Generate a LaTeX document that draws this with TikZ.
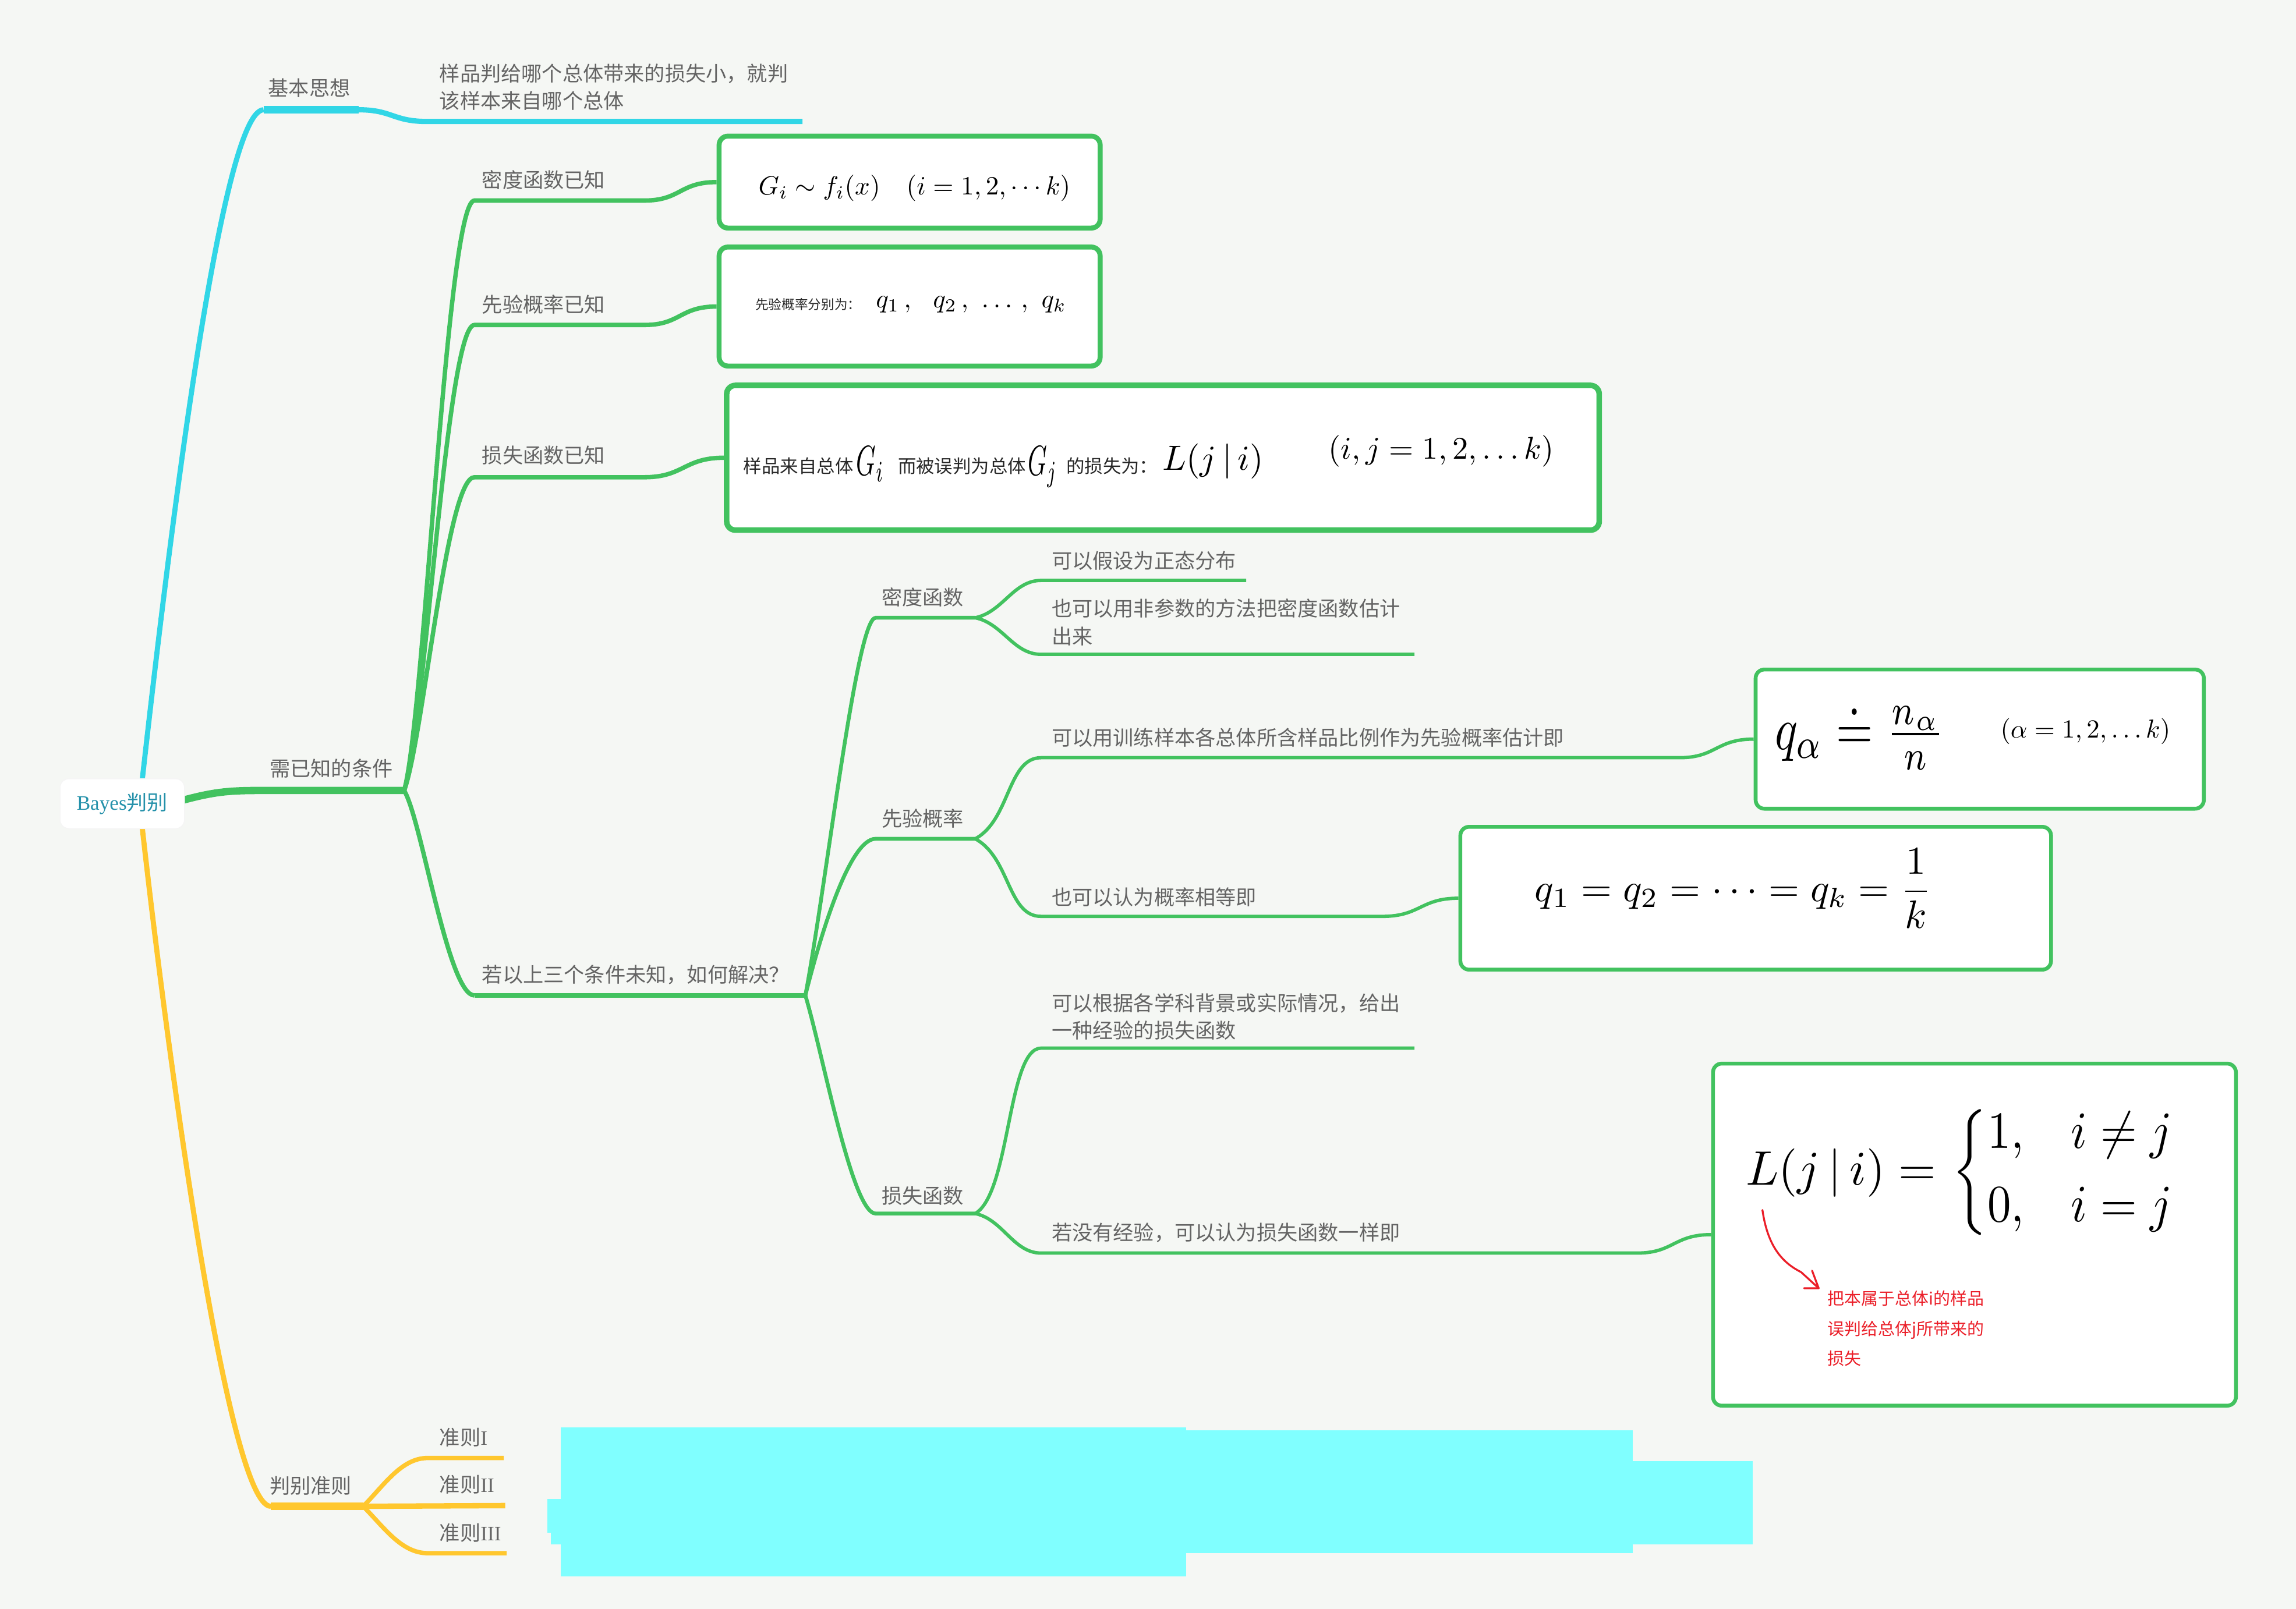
\documentclass[tikz,border=0pt]{standalone}
\usepackage{amsmath,amssymb}
\usepackage{fontspec}
\newfontfamily\cjk{Noto Sans CJK SC}
\newfontfamily\lat{Liberation Serif}
\definecolor{bg}{RGB}{245,247,244}
\definecolor{cy}{RGB}{49,214,230}
\definecolor{gr}{RGB}{66,194,95}
\definecolor{ye}{RGB}{255,199,46}
\definecolor{txt}{RGB}{100,100,100}
\definecolor{dark}{RGB}{40,40,40}
\definecolor{rootc}{RGB}{36,145,170}
\definecolor{redc}{RGB}{235,30,40}
\definecolor{blob}{RGB}{128,255,255}
\pgfdeclarelayer{bgl}
\pgfdeclarelayer{back}
\pgfsetlayers{bgl,back,main}
\begin{document}
\begin{tikzpicture}[x=1pt,y=-1pt,line cap=round,line join=round,
  lbl/.style={font=\cjk\fontsize{14}{19}\selectfont,text=txt,inner sep=0pt,anchor=west,align=left},
  boxtxt/.style={font=\cjk\fontsize{12.5}{15}\selectfont,text=dark,inner sep=0pt,anchor=west},
  hand/.style={inner sep=0pt,anchor=west,text=black},
  boxg/.style={draw=gr,fill=white,rounded corners=6pt,inner sep=0pt},
  rootbox/.style={draw=white!96!black,line width=0.6pt,fill=white,rounded corners=6pt,inner sep=0pt,
    minimum width=85pt,minimum height=34pt,font=\fontsize{14}{17}\selectfont,text=rootc},
  cyl/.style={draw=cy},
  grl/.style={draw=gr},
  yel/.style={draw=ye},
  redl/.style={draw=redc,line width=1.3pt}]
\useasboundingbox (0,0) rectangle (1568,1099);
\begin{pgfonlayer}{bgl}
\fill[bg] (0,0) rectangle (1568,1099);
\end{pgfonlayer}

% ---------- root
\node[rootbox] (root) at (83.5,549) {{\lat Bayes}{\cjk 判别}};

% ---------- boxes
\node[boxg,line width=3.4pt,minimum width=260.2pt,minimum height=62.8pt] (box1) at (621.2,124.4) {};
\node[boxg,line width=3.4pt,minimum width=260.2pt,minimum height=81.3pt] (box2) at (621.2,209.4) {};
\node[boxg,line width=3.8pt,minimum width=595.9pt,minimum height=98.9pt] (box3) at (794.2,312.7) {};
\node[boxg,line width=2.6pt,minimum width=306.1pt,minimum height=95.1pt] (box4) at (1352,504.9) {};
\node[boxg,line width=2.6pt,minimum width=403.4pt,minimum height=97.6pt] (box5) at (1199,613.6) {};
\node[boxg,line width=2.6pt,minimum width=357.1pt,minimum height=233.7pt] (box6) at (1348.4,843.4) {};

% ---------- cyan blob
\fill[blob] (383,975) rectangle (810,1077);
\fill[blob] (810,977) rectangle (1115,1061);
\fill[blob] (1115,998) rectangle (1197,1055);
\fill[blob] (374,1024) rectangle (384,1047);
\fill[blob] (376,1046) rectangle (384,1055);

% ---------- labels
\node[lbl] (ljb) at (183,60) {基本思想};
\node[lbl] (ljbt) at (300,59.5) {样品判给哪个总体带来的损失小，就判\\该样本来自哪个总体};
\node[lbl] (lxy) at (184,525) {需已知的条件};
\node[lbl] (lmd) at (329,123) {密度函数已知};
\node[lbl] (lxq) at (329,208) {先验概率已知};
\node[lbl] (lss) at (329,311) {损失函数已知};
\node[lbl] (lrg) at (329,666) {若以上三个条件未知，如何解决？};
\node[lbl] (lmd2) at (602,408) {密度函数};
\node[lbl] (la1) at (718,383) {可以假设为正态分布};
\node[lbl] (la2) at (718,425) {也可以用非参数的方法把密度函数估计\\出来};
\node[lbl] (lxq2) at (602,559) {先验概率};
\node[lbl] (lb1) at (718,504) {可以用训练样本各总体所含样品比例作为先验概率估计即};
\node[lbl] (lb2) at (718,613) {也可以认为概率相等即};
\node[lbl] (lss2) at (602,817) {损失函数};
\node[lbl] (lc1) at (718,694.5) {可以根据各学科背景或实际情况，给出\\一种经验的损失函数};
\node[lbl] (lc2) at (718,842) {若没有经验，可以认为损失函数一样即};
\node[lbl] (lpb) at (184,1015) {判别准则};
\node[lbl] (lz1) at (300,982) {准则{\lat I}};
\node[lbl] (lz2) at (300,1014) {准则{\lat II}};
\node[lbl] (lz3) at (300,1047) {准则{\lat III}};

% ---------- box contents
\node[hand] (f1) at (517.8,128.5) {\resizebox{213pt}{!}{$G_i \sim f_i(x)\quad (i=1,2,\cdots k)$}};
\node[anchor=west,inner sep=0pt,font=\cjk\fontsize{9}{11}\selectfont,text=dark] (f2a) at (515.7,208) {先验概率分别为：};
\node[hand] (f2b) at (598,208) {\resizebox{130pt}{!}{$q_1\,,\ \ q_2\,,\ \ldots\,,\ q_k$}};
\node[boxtxt] (f3a) at (507.6,318.3) {样品来自总体};
\node[hand] (f3b) at (584.6,317) {\resizebox*{19pt}{24pt}{$G_i$}};
\node[boxtxt] (f3c) at (613,318.3) {而被误判为总体};
\node[hand] (f3d) at (702,319) {\resizebox*{20pt}{28pt}{$G_j$}};
\node[boxtxt] (f3e) at (728,318.3) {的损失为：};
\node[hand] (f3f) at (793.7,315) {\resizebox{69pt}{!}{$L(j\,|\,i)$}};
\node[hand] (f3g) at (907,308) {\resizebox{154pt}{!}{$(i,j=1,2,\ldots k)$}};
\node[hand] (f4a) at (1212,503) {\resizebox*{116pt}{46pt}{$q_\alpha \doteq \frac{n_\alpha}{n}$}};
\node[hand] (f4b) at (1366,499.5) {\resizebox{116pt}{!}{$(\alpha=1,2,\ldots k)$}};
\node[hand] (f5) at (1048,607) {\resizebox{271pt}{!}{$q_1 = q_2 = \cdots = q_k = \dfrac{1}{k}$}};
\node[hand] (f6a) at (1192,801) {\resizebox{130pt}{!}{$L(j\,|\,i)=$}};
\node[hand] (f6b) at (1333,801) {\resizebox*{154pt}{93pt}{$\left\{\begin{array}{@{}l@{\quad}l@{}}1, & i\neq j\\[2pt] 0, & i=j\end{array}\right.$}};
\node[anchor=west,inner sep=0pt,align=left,font=\cjk\fontsize{11.5}{20.5}\selectfont,text=redc] (rt) at (1248,907.5) {把本属于总体i的样品\\误判给总体j所带来的\\损失};

% ---------- coordinates
\coordinate (cyA) at (97,534);
\coordinate (cyB) at (180,75);
\coordinate (cyC) at (245,75);
\coordinate (cyD) at (292,83);
\coordinate (cyE) at (548,83);
\coordinate (gA) at (120,548);
\coordinate (gB) at (178,540);
\coordinate (gJ) at (276,540);
\coordinate (g1) at (324,137);
\coordinate (g1e) at (440,137);
\coordinate (g2) at (324,222);
\coordinate (g2e) at (440,222);
\coordinate (g3) at (324,326);
\coordinate (g3e) at (440,326);
\coordinate (g4) at (324,680);
\coordinate (j1) at (550,680);
\coordinate (m1) at (598,422);
\coordinate (m1e) at (666,422);
\coordinate (m1a) at (711,396.5);
\coordinate (m1ae) at (851,396.5);
\coordinate (m1b) at (711,447);
\coordinate (m1be) at (966,447);
\coordinate (m2) at (598,573);
\coordinate (m2e) at (666,573);
\coordinate (m2a) at (711,517.6);
\coordinate (m2ae) at (1147,517.6);
\coordinate (m2b) at (711,626);
\coordinate (m2be) at (944,626);
\coordinate (m3) at (598,829);
\coordinate (m3e) at (666,829);
\coordinate (m3a) at (711,716);
\coordinate (m3ae) at (966,716);
\coordinate (m3b) at (711,856);
\coordinate (m3be) at (1118,856);
\coordinate (yA) at (97,564);
\coordinate (yB) at (185,1029);
\coordinate (yJ) at (248,1029);
\coordinate (y1) at (292,996);
\coordinate (y1e) at (344,996);
\coordinate (y2e) at (345,1028.5);
\coordinate (y3) at (292,1061);
\coordinate (y3e) at (346,1061);
\coordinate (ra) at (1203.6,826.6);
\coordinate (rb) at (1230,869);
\coordinate (rtip) at (1242,880);

% ---------- connectors
\begin{pgfonlayer}{back}
\draw[cyl,line width=3.5pt] (cyA) .. controls (112,400) and (150,75) .. (cyB);
\draw[cyl,line width=5pt] (cyB) -- (cyC);
\draw[cyl,line width=3.6pt] (cyC) .. controls (268,75) and (268,83) .. (cyD) -- (cyE);

\draw[grl,line width=5pt] (gA) .. controls (145,541) and (155,540) .. (gB) -- (gJ);
\draw[grl,line width=3pt] (gJ) .. controls (290,490) and (305,137) .. (g1) -- (g1e) .. controls (465,137) and (464,124.4) .. (box1.west);
\draw[grl,line width=3pt] (gJ) .. controls (290,500) and (305,222) .. (g2) -- (g2e) .. controls (465,222) and (464,209.4) .. (box2.west);
\draw[grl,line width=3pt] (gJ) .. controls (289,505) and (305,326) .. (g3) -- (g3e) .. controls (467,326) and (467,312.7) .. (box3.west);
\draw[grl,line width=3pt] (gJ) .. controls (288,560) and (306,680) .. (g4);
\draw[grl,line width=3.4pt] (g4) -- (j1);

\draw[grl,line width=2.6pt] (j1) .. controls (565,600) and (585,422) .. (m1) -- (m1e);
\draw[grl,line width=2.6pt] (j1) .. controls (560,640) and (580,573) .. (m2) -- (m2e);
\draw[grl,line width=2.6pt] (j1) .. controls (562,720) and (582,829) .. (m3) -- (m3e);

\draw[grl,line width=2.3pt] (m1e) .. controls (685,418) and (692,396.5) .. (m1a) -- (m1ae);
\draw[grl,line width=2.3pt] (m1e) .. controls (685,426) and (692,447) .. (m1b) -- (m1be);
\draw[grl,line width=2.3pt] (m2e) .. controls (690,560) and (688,517.6) .. (m2a) -- (m2ae) .. controls (1172,517.6) and (1172,504.9) .. (box4.west);
\draw[grl,line width=2.3pt] (m2e) .. controls (690,586) and (688,626) .. (m2b) -- (m2be) .. controls (970,626) and (970,613.6) .. (box5.west);
\draw[grl,line width=2.3pt] (m3e) .. controls (690,815) and (688,716) .. (m3a) -- (m3ae);
\draw[grl,line width=2.3pt] (m3e) .. controls (685,833) and (692,856) .. (m3b) -- (m3be) .. controls (1143,856) and (1143,843.4) .. (box6.west);

\draw[yel,line width=3.5pt] (yA) .. controls (112,700) and (155,1029) .. (yB);
\draw[yel,line width=5pt] (yB) -- (yJ);
\draw[yel,line width=3pt] (yJ) .. controls (262,1015) and (274,996) .. (y1) -- (y1e);
\draw[yel,line width=3.7pt] (yJ) -- (y2e);
\draw[yel,line width=3pt] (yJ) .. controls (262,1043) and (274,1061) .. (y3) -- (y3e);
\end{pgfonlayer}

% red annotation arrow
\draw[redl] (ra) .. controls (1207,850) and (1216,862) .. (rb) -- (rtip);
\draw[redl] (1237.5,868) -- (rtip) -- (1232,880);
\end{tikzpicture}
\end{document}
